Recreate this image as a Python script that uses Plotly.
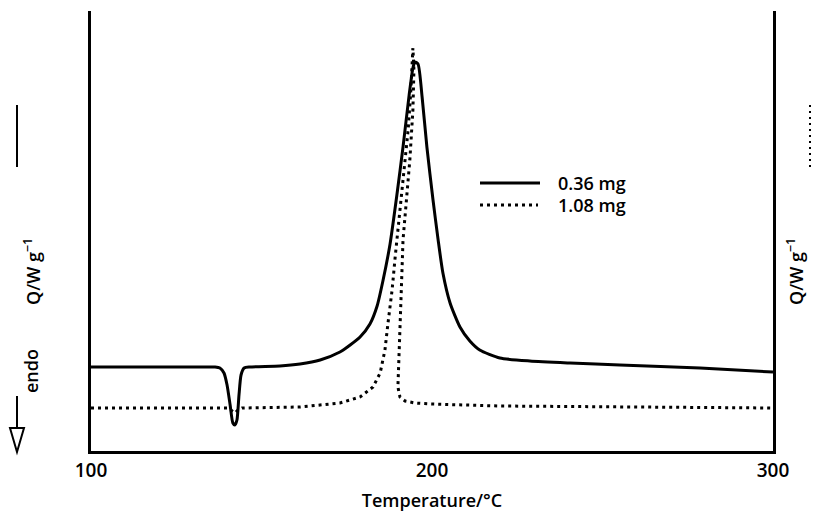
import plotly.graph_objects as go

# Solid curve: 0.36 mg
t_036 = [100.0, 117.3, 132.0, 136.4, 137.8, 139.0, 139.9, 140.8, 141.6, 142.2, 142.8, 143.4,
         144.0, 144.9, 146.6, 155.4, 161.3, 167.2, 173.0, 176.0, 178.9, 181.8, 183.9, 185.6, 187.7,
         189.7, 191.5, 193.3, 194.4, 195.0, 195.9, 197.1, 198.5, 200.3, 201.8, 203.2, 205.3,
         208.2, 211.1, 214.0, 219.9, 228.7, 240.5, 255.1, 278.6, 300.0]
q_036 = [84, 84, 84, 84, 83, 78, 66, 46, 28, 26, 31, 56,
         76, 83, 84, 85, 87, 91, 99, 106, 114, 127, 145, 170, 207,
         256, 304, 356, 383, 389, 387, 354, 304, 251, 211, 178, 148,
         124, 110, 101, 93, 90, 88, 86, 83, 79]

# Dotted curve: 1.08 mg
t_108 = [100.0, 136.4, 140.2, 141.4, 142.2, 143.1, 144.3, 161.3, 173.0, 178.9, 182.7, 184.8,
         186.2, 187.1, 188.3, 189.2, 189.7, 190.9, 192.1, 193.0, 193.8, 194.4, 194.7, 194.4,
         193.5, 192.4, 191.5, 190.9, 190.3, 190.0, 190.6, 192.1, 195.0, 199.4, 219.9, 249.3, 300.0]
q_108 = [43, 43, 43, 40, 38, 41, 43, 44, 48, 54, 64, 78,
         101, 128, 161, 194, 211, 251, 291, 321, 361, 403, 381, 341,
         291, 251, 211, 151, 101, 64, 54, 50, 48, 47, 45, 44, 43]

x_ticks = [100, 200, 300]
names = ["0.36 mg", "1.08 mg"]

W, H = 823, 518
L, R, T, B = 91, 50, 11, 67
pw, ph = W - L - R, H - T - B


def px(x):
    return (x - L) / pw


def py(y):
    return (H - B - y) / ph


FONT = "Open Sans"
TXT = dict(size=18, family=FONT, weight=600, color="black")

fig = go.Figure()
fig.add_trace(go.Scatter(x=t_036, y=q_036, mode="lines", name=names[0], showlegend=False,
                         line=dict(color="black", width=3, shape="spline", smoothing=0.6)))
fig.add_trace(go.Scatter(x=t_108, y=q_108, mode="lines", name=names[1], showlegend=False,
                         line=dict(color="black", width=3, dash="3px,4px")))

fig.update_layout(
    width=W, height=H,
    margin=dict(l=L, r=R, t=T, b=B),
    paper_bgcolor="white", plot_bgcolor="white",
    font=TXT,
    showlegend=False,
    xaxis=dict(range=[100, 300], tickvals=x_ticks, ticktext=[str(v) for v in x_ticks],
               showgrid=False, zeroline=False, showline=True, linecolor="black", linewidth=3,
               ticks="", tickfont=dict(size=19, family=FONT, weight=600),
               title=dict(text="Temperature/°C", font=TXT, standoff=13)),
    yaxis=dict(range=[0, 440], showgrid=False, zeroline=False, showline=True, mirror=True,
               linecolor="black", linewidth=3, ticks="", showticklabels=False),
)

ann = []
ann.append(dict(text="Q/W g<sup>−1</sup>", x=px(17), y=py(272), xref="paper", yref="paper",
                showarrow=False, textangle=-90, font=TXT))
ann.append(dict(text="endo", x=px(17), y=py(395), xref="paper", yref="paper",
                yanchor="bottom", showarrow=False, textangle=-90, font=TXT))
ann.append(dict(text="Q/W g<sup>−1</sup>", x=px(810), y=py(272), xref="paper", yref="paper",
                showarrow=False, textangle=-90, font=TXT))
# legend texts
ann.append(dict(text=names[0], x=px(556), y=py(183), xref="paper", yref="paper",
                xanchor="left", showarrow=False, font=TXT))
ann.append(dict(text=names[1], x=px(556), y=py(205), xref="paper", yref="paper",
                xanchor="left", showarrow=False, font=TXT))
fig.update_layout(annotations=ann)

shapes = []
# legend sample lines
shapes.append(dict(type="line", xref="paper", yref="paper", x0=px(480), x1=px(540),
                   y0=py(183), y1=py(183), line=dict(color="black", width=3)))
shapes.append(dict(type="line", xref="paper", yref="paper", x0=px(480), x1=px(538),
                   y0=py(205), y1=py(205), line=dict(color="black", width=3, dash="3px,4px")))
# top-left solid key line
shapes.append(dict(type="line", xref="paper", yref="paper", x0=px(17), x1=px(17),
                   y0=py(105), y1=py(167), line=dict(color="black", width=2)))
# right dotted key line
shapes.append(dict(type="line", xref="paper", yref="paper", x0=px(810), x1=px(810),
                   y0=py(105), y1=py(167), line=dict(color="black", width=2, dash="2px,4px")))
# endo arrow
shapes.append(dict(type="line", xref="paper", yref="paper", x0=px(17), x1=px(17),
                   y0=py(396), y1=py(428), line=dict(color="black", width=2)))
shapes.append(dict(type="path", xref="paper", yref="paper",
                   path=f"M {px(10)} {py(428)} L {px(24)} {py(428)} L {px(17)} {py(452)} Z",
                   line=dict(color="black", width=2), fillcolor="white"))
fig.update_layout(shapes=shapes)

fig.write_html("out.html")
